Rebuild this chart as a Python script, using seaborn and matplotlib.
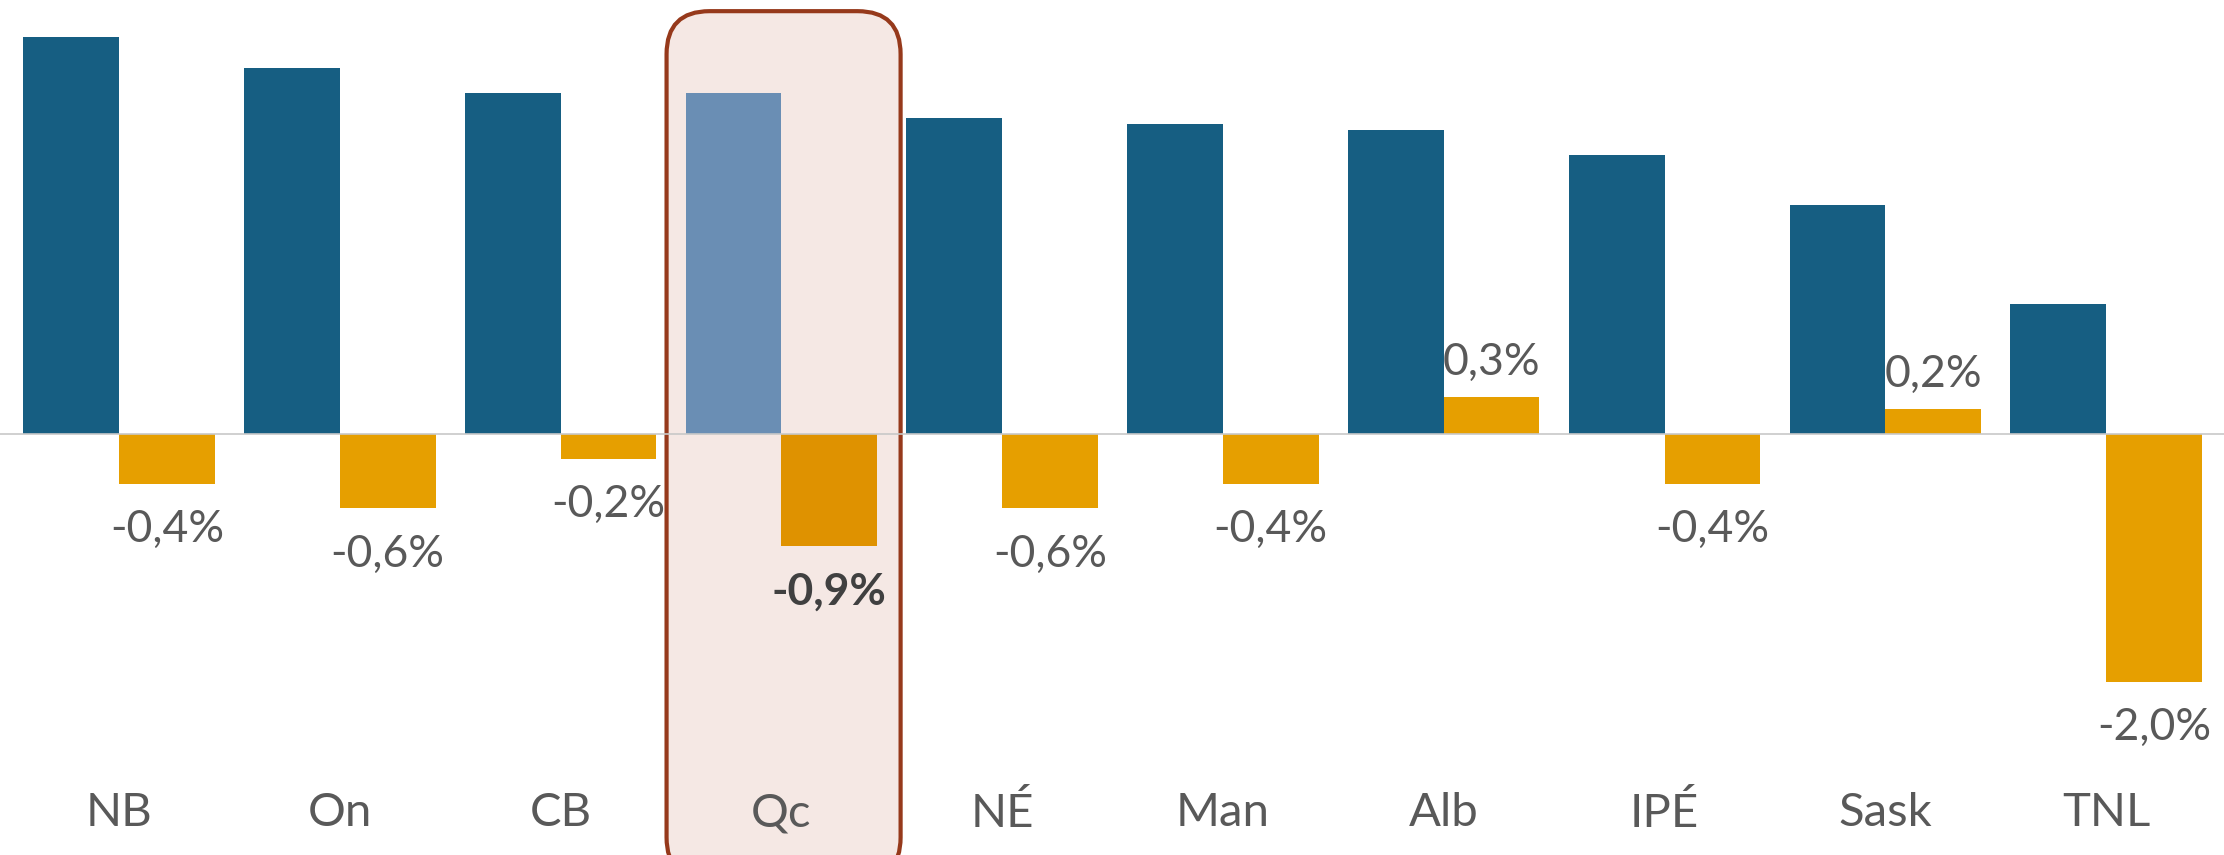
import numpy as np
import pandas as pd
import matplotlib
matplotlib.use("Agg")
import matplotlib.pyplot as plt
from matplotlib.patches import FancyBboxPatch
import seaborn as sns

# Data
provinces = ['NB', 'On', 'CB', 'Qc', 'NÉ', 'Man', 'Alb', 'IPÉ', 'Sask', 'TNL']
niveau = [3.2, 2.95, 2.75, 2.75, 2.55, 2.5, 2.45, 2.25, 1.85, 1.05]
variation = [-0.4, -0.6, -0.2, -0.9, -0.6, -0.4, 0.3, -0.4, 0.2, -2.0]
highlight = 'Qc'

BLUE = '#165E82'
BLUE_HI = '#6A8EB4'
ORANGE = '#E69F00'
ORANGE_HI = '#DF9200'
GREY_TXT = '#595959'

sns.set_style('white')
plt.rcParams['font.family'] = ['Lato', 'DejaVu Sans']

df = pd.DataFrame({
    'province': provinces * 2,
    'serie': ['niveau'] * len(provinces) + ['variation'] * len(provinces),
    'valeur': niveau + variation,
})

fig = plt.figure(figsize=(22.24, 8.55), dpi=100)
ax = fig.add_axes([0, 0.111, 1, 0.889])

sns.barplot(data=df, x='province', y='valeur', hue='serie',
            palette=[BLUE, ORANGE], width=0.867, gap=0, saturation=1,
            linewidth=0, legend=False, ax=ax, zorder=3)

hi = provinces.index(highlight)
ax.containers[0][hi].set_facecolor(BLUE_HI)
ax.containers[1][hi].set_facecolor(ORANGE_HI)

# highlight box behind Qc
box = FancyBboxPatch((hi - 0.52, -3.6), 1.06, 3.6 + 3.41,
                     boxstyle='round,pad=0,rounding_size=0.195',
                     mutation_aspect=1.78, transform=ax.transData,
                     facecolor='#F5E8E4', edgecolor='#96391B', linewidth=3,
                     clip_on=False, zorder=0)
ax.add_patch(box)

ax.axhline(0, color='#C8C8C8', linewidth=1.2, zorder=4)

# data labels on the variation bars
for i, bar in enumerate(ax.containers[1]):
    v = variation[i]
    x = bar.get_x() + bar.get_width() / 2
    txt = f"{v:.1f}%".replace('.', ',')
    bold = provinces[i] == highlight
    off = 25 if v > 0 else -33
    ax.annotate(txt, (x, v), xytext=(0, off), textcoords='offset points',
                ha='center', va='center', fontsize=32,
                color='#404040' if bold else GREY_TXT,
                fontweight='bold' if bold else 'normal', zorder=5)

ax.set_xlim(-0.539, 9.534)
ax.set_ylim(-2.63, 3.5)
ax.set_xlabel('')
ax.set_ylabel('')
ax.set_yticks([])
ax.tick_params(axis='x', length=0, pad=23, labelsize=34, labelcolor=GREY_TXT)
for s in ax.spines.values():
    s.set_visible(False)
ax.patch.set_alpha(0)

fig.savefig('out.png', dpi=100)
